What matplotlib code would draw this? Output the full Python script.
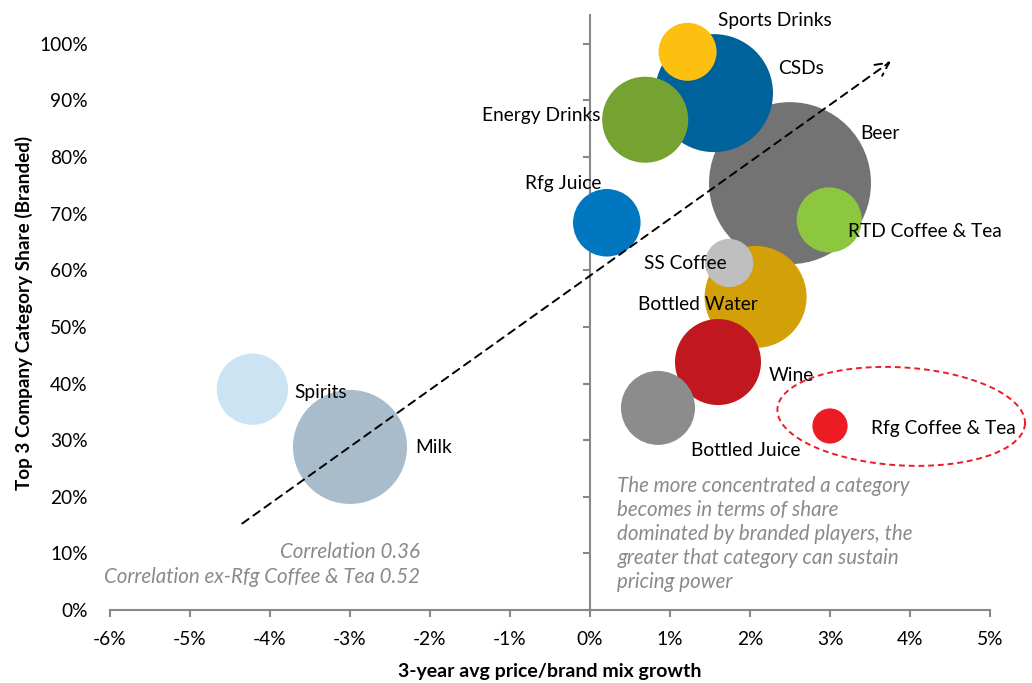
import numpy as np
import matplotlib
matplotlib.use("Agg")
import matplotlib.pyplot as plt
from matplotlib.ticker import FuncFormatter

plt.rcParams['font.family'] = ['Lato', 'DejaVu Sans']

# ---- data ----
categories = ["Beer", "CSDs", "Milk", "Bottled Water", "Energy Drinks", "Wine",
              "Bottled Juice", "Spirits", "Rfg Juice", "RTD Coffee & Tea",
              "Sports Drinks", "SS Coffee", "Rfg Coffee & Tea"]
price_growth = [2.50, 1.55, -3.00, 2.07, 0.69, 1.60, 0.85, -4.22, 0.21, 2.99, 1.22, 1.74, 3.00]   # %
top3_share = [75.4, 91.3, 28.8, 55.3, 86.6, 43.8, 35.7, 39.0, 68.4, 68.9, 98.6, 61.3, 32.5]      # %
bubble_size = [65.6, 34.8, 32.5, 26.0, 18.5, 18.5, 13.7, 12.7, 11.4, 10.6, 8.4, 5.8, 3.1]
colors = ["#737373", "#00629B", "#A8BCCB", "#D4A007", "#76A232", "#C1171E",
          "#8C8C8C", "#CCE3F3", "#0077C0", "#8DC63F", "#FDC010", "#BFBFBF", "#ED1C24"]
# label offsets (pixels: dx right, dy up) and alignment
label_off = [(70, 51, 'left'), (64, 26, 'left'), (65, 0, 'left'), (2, -7, 'right'),
             (-45, 5, 'right'), (51, -12, 'left'), (33, -42, 'left'), (42, -2, 'left'),
             (-5, 40, 'right'), (19, -11, 'left'), (30, 32, 'left'), (-3, 0, 'right'),
             (41, -1, 'left')]

x_ticks = [-6, -5, -4, -3, -2, -1, 0, 1, 2, 3, 4, 5]
y_ticks = [0, 10, 20, 30, 40, 50, 60, 70, 80, 90, 100]
trend_start = (-4.375, 15.0)
trend_end = (3.79, 97.2)

W, H = 1032, 683
rect = [110 / W, 1 - 610 / H, 880 / W, 595 / H]
fig = plt.figure(figsize=(W / 100, H / 100), dpi=100)

# label axis (only carries the y tick labels at far left)
axl = fig.add_axes(rect)
ax = fig.add_axes(rect, sharey=axl)
ax.patch.set_visible(False)
ax.set_xlim(-6, 5)
ax.set_ylim(0, 105.1)
axl.set_xlim(-6, 5)
for sp in axl.spines.values():
    sp.set_visible(False)
axl.set_xticks([])
axl.yaxis.set_major_locator(plt.FixedLocator(y_ticks))
axl.yaxis.set_major_formatter(FuncFormatter(lambda v, p: f"{v:.0f}%"))
axl.tick_params(axis='y', length=0, labelsize=13.8, pad=16, labelcolor='black')
axl.set_ylabel("Top 3 Company Category Share (Branded)", fontsize=13.6,
               fontweight='bold', labelpad=4)

axis_col = "#888888"
# bubbles (size value proportional to area, px radius = 10*sqrt(size))
radii_px = 10 * np.sqrt(np.array(bubble_size))
s = (2 * radii_px * 0.72) ** 2
ax.scatter(price_growth, top3_share, s=s, c=colors, edgecolors='none', zorder=3)

for name, x, y, (dx, dy, ha) in zip(categories, price_growth, top3_share, label_off):
    ax.annotate(name, (x, y), xytext=(dx, dy - 1), textcoords='offset pixels',
                ha=ha, va='center', fontsize=13.8, color='black', zorder=6)

# spines
for sp in ['top', 'right']:
    ax.spines[sp].set_visible(False)
ax.spines['left'].set_position(('data', 0))
for sp in ['left', 'bottom']:
    ax.spines[sp].set_color(axis_col)
    ax.spines[sp].set_linewidth(1.5)
ax.xaxis.set_major_locator(plt.FixedLocator(x_ticks))
ax.xaxis.set_major_formatter(FuncFormatter(lambda v, p: f"{v:.0f}%"))
ax.tick_params(axis='x', direction='out', length=5, width=1.5, color=axis_col,
               labelsize=13.8, pad=10, labelcolor='black')
ax.tick_params(axis='y', direction='out', length=5, width=1.5, color=axis_col,
               labelleft=False)

ax.set_xlabel("3-year avg price/brand mix growth", fontsize=14, fontweight='bold', labelpad=11)

# trend arrow
ax.annotate("", xy=trend_end, xytext=trend_start,
            arrowprops=dict(arrowstyle="->", linestyle=(0, (4, 3)), lw=1.4, color='black',
                            mutation_scale=24), zorder=5)

# red dashed ellipse around Rfg Coffee & Tea (in display space)
fig.canvas.draw()
cx, cy = ax.transData.transform((3.89, 34.2))
t = np.linspace(0, 2 * np.pi, 300)
a, b, th = 124, 49, np.deg2rad(-3.5)
ex = cx + a * np.cos(t) * np.cos(th) - b * np.sin(t) * np.sin(th)
ey = cy + a * np.cos(t) * np.sin(th) + b * np.sin(t) * np.cos(th)
pts = ax.transData.inverted().transform(np.column_stack([ex, ey]))
ax.plot(pts[:, 0], pts[:, 1], color="#ED1C24", lw=1.4, linestyle=(0, (3, 2)),
        zorder=4, clip_on=False)

gray = "#8A8A8A"
ax.text(-2.12, 10.2, "Correlation 0.36", ha='right', va='center', fontsize=14.8,
        style='italic', color=gray)
ax.text(-2.12, 5.8, "Correlation ex-Rfg Coffee & Tea 0.52", ha='right', va='center',
        fontsize=14.8, style='italic', color=gray)
note = ("The more concentrated a category\nbecomes in terms of share\n"
        "dominated by branded players, the\ngreater that category can sustain\npricing power")
ax.text(0.34, 23.6, note, ha='left', va='top', fontsize=14.8, style='italic', color=gray,
        linespacing=1.24)

fig.savefig("out.png", dpi=100)
